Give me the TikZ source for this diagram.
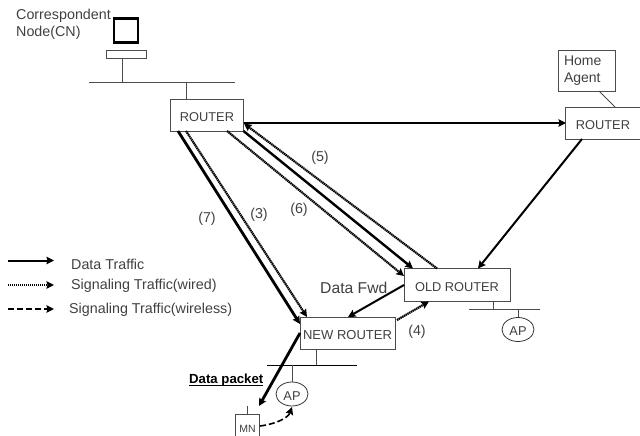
\documentclass[tikz,border=0pt]{standalone}
\usepackage{fontspec}
\setmainfont{Liberation Sans}
\usetikzlibrary{arrows.meta,shapes.geometric}
\definecolor{txt}{gray}{0.25}
\definecolor{edge}{gray}{0.3}
\newcommand{\lowered}[1]{\raisebox{0pt}[12.8pt][0pt]{#1}}
\tikzset{
  x=1pt,y=-1pt,
  box/.style={draw=edge,line width=1pt,fill=white,inner sep=0pt,text=txt,font=\fontsize{12.8}{15}\selectfont},
  wire/.style={draw=edge,line width=1pt},
  apnode/.style={draw=black!80,line width=0.8pt,ellipse,minimum width=32pt,minimum height=24pt,inner sep=0pt,text=txt,font=\fontsize{12.8}{15}\selectfont},
  lbl/.style={text=txt,inner sep=0pt,font=\fontsize{14.3}{17}\selectfont},
  tip/.style={-{Stealth[length=7.5pt,width=7.5pt,inset=1pt]}},
  datatraffic/.style={tip,line width=2pt,draw=black},
  heavytraffic/.style={tip,line width=2.8pt,draw=black},
  wiredtraffic/.style={tip,line width=2.2pt,draw=black,dash pattern=on 1.4pt off 0.6pt},
  wirelesstraffic/.style={tip,line width=1.6pt,draw=black,dash pattern=on 6pt off 3pt},
}
\begin{document}
\begin{tikzpicture}
\useasboundingbox (0,0) rectangle (640,436);
% computer
\node[draw=black,line width=2.6pt,minimum width=24pt,minimum height=24pt,inner sep=0pt] (monitor) at (126,30.5) {};
\node[box,minimum width=40pt,minimum height=8pt] (kbd) at (126,54.5) {};
\coordinate (busAa) at (89,82.5); \coordinate (busAb) at (235,82.5);
\coordinate (busAc) at (122,82.5); \coordinate (busAd) at (186.5,82.5);
\coordinate (kbdFoot) at (122,58.5);
\draw[wire] (busAa) -- (busAb);
\draw[wire] (kbdFoot) -- (busAc);
\node[lbl,anchor=north west,align=left] (cn) at (16,8.5) {Correspondent\\Node(CN)};
% routers
\node[box,minimum width=73pt,minimum height=32pt] (r1) at (207,115) {\lowered{ROUTER}};
\node[box,minimum width=75pt,minimum height=32pt] (r2) at (603,123) {\lowered{ROUTER}};
\node[box,minimum width=57pt,minimum height=40.5pt,align=left,text width=45pt,font=\fontsize{14}{17}\selectfont] (ha) at (586.5,71) {Home\\Agent};
\node[box,minimum width=106pt,minimum height=32.5pt] (old) at (457,285) {\lowered{OLD ROUTER}};
\node[box,minimum width=95pt,minimum height=32pt,font=\fontsize{13}{15}\selectfont] (new) at (347.5,333) {\lowered{NEW ROUTER}};
\node[box,minimum width=24.5pt,minimum height=24pt,font=\fontsize{10.5}{13}\selectfont] (mn) at (247.5,426) {\lowered{MN}};
\node[apnode] (ap1) at (518,329.5) {\lowered{AP}};
\node[apnode] (ap2) at (292,394) {\lowered{AP}};
% wires
\coordinate (r1top) at (186.5,99); \draw[wire] (busAd) -- (r1top);
\coordinate (hafoot) at (599,91); \coordinate (r2top) at (615,107); \draw[wire,line width=0.8pt] (hafoot) -- (r2top);
\coordinate (busBa) at (469,309); \coordinate (busBb) at (540,309);
\coordinate (busBc) at (493,309); \coordinate (busBd) at (518,309);
\coordinate (oldfoot) at (493,301.2);
\draw[wire] (busBa) -- (busBb); \draw[wire] (oldfoot) -- (busBc); \draw[wire] (busBd) -- (ap1.north);
\coordinate (busCa) at (267,365); \coordinate (busCb) at (357,365);
\coordinate (busCc) at (316,365); \coordinate (busCd) at (292,365);
\coordinate (newfoot) at (316,349);
\draw[wire,draw=black] (busCa) -- (busCb); \draw[wire] (newfoot) -- (busCc); \draw[wire] (busCd) -- (ap2.north);
\coordinate (mntop) at (247.5,406); \draw[wire] (mntop) -- (mn.north);
% traffic
\coordinate (r1r2a) at (243.5,123); \coordinate (r1r2b) at (566,123);
\draw[datatraffic] (r1r2a) -- (r1r2b);
\coordinate (r2o) at (582,139); \coordinate (or2) at (478,268.5);
\draw[datatraffic] (r2o) -- (or2);
\coordinate (r1oa) at (243.5,131); \coordinate (r1ob) at (413,268.5);
\draw[heavytraffic,line width=2.4pt] (r1oa) -- (r1ob);
\coordinate (r1oc) at (227,131); \coordinate (r1od) at (404,276);
\draw[wiredtraffic] (r1oc) -- (r1od);
\coordinate (ore) at (437,268.5); \coordinate (r1e) at (244,123.5);
\draw[wiredtraffic] (ore) -- (r1e);
\coordinate (r1na) at (178,131); \coordinate (r1nb) at (300,324);
\draw[heavytraffic] (r1na) -- (r1nb);
\coordinate (r1nc) at (186,131); \coordinate (r1nd) at (307,317);
\draw[wiredtraffic] (r1nc) -- (r1nd);
\coordinate (ofa) at (404,285); \coordinate (ofb) at (348,317);
\draw[datatraffic] (ofa) -- (ofb);
\coordinate (nfa) at (397,320); \coordinate (nfb) at (429,301.5);
\draw[wiredtraffic] (nfa) -- (nfb);
\coordinate (nma) at (300,333); \coordinate (nmb) at (259,406);
\draw[heavytraffic] (nma) -- (nmb);
\coordinate (mna) at (260,426); \coordinate (apb) at (292,407);
\draw[wirelesstraffic] (mna) .. controls (276,424) and (288,418) .. (apb);
% labels
\node[lbl] (l5) at (320,158) {(5)};
\node[lbl] (l6) at (299,210) {(6)};
\node[lbl] (l3) at (259,215) {(3)};
\node[lbl] (l7) at (207,219) {(7)};
\node[lbl] (l4) at (417,332) {(4)};
\node[lbl,anchor=west,font=\fontsize{15.7}{18}\selectfont] (fwd) at (320,288) {Data Fwd};
\node[anchor=base west,inner sep=0pt,font=\bfseries\fontsize{13.2}{15}\selectfont] (pkt) at (189,383.5) {\underline{\smash{Data packet}}};
% legend
\coordinate (la1) at (8,260.5); \coordinate (la2) at (54,260.5);
\coordinate (lb1) at (8,285); \coordinate (lb2) at (54,285);
\coordinate (lc1) at (8,309); \coordinate (lc2) at (54,309);
\draw[datatraffic] (la1) -- (la2);
\draw[wiredtraffic] (lb1) -- (lb2);
\draw[wirelesstraffic] (lc1) -- (lc2);
\node[lbl,anchor=west] (ta) at (71,264) {Data Traffic};
\node[lbl,anchor=west] (tb) at (71,286) {Signaling Traffic(wired)};
\node[lbl,anchor=west] (tc) at (69,310) {Signaling Traffic(wireless)};
\end{tikzpicture}
\end{document}
